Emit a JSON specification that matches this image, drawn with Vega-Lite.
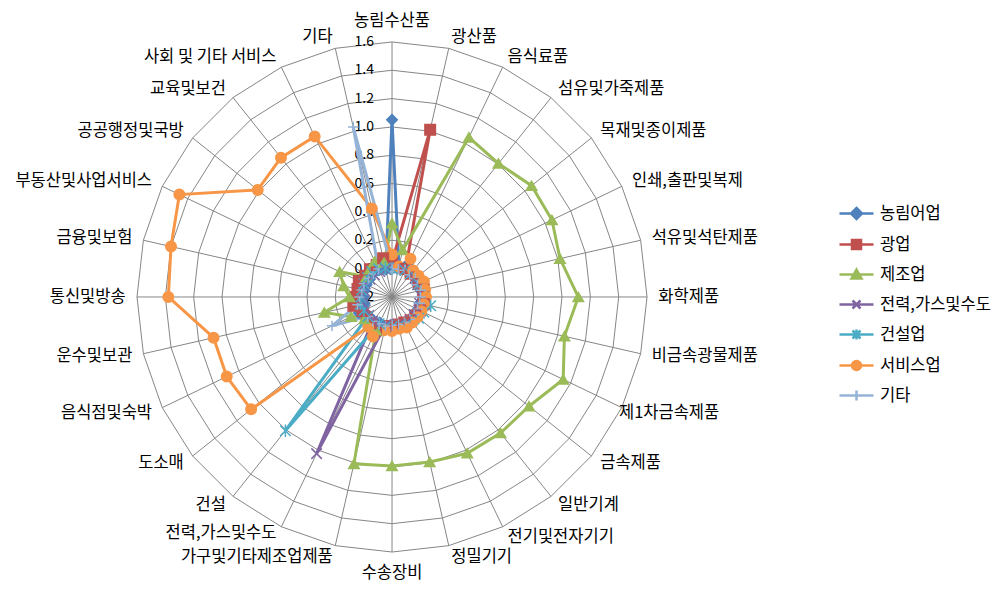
{
  "$schema": "https://vega.github.io/schema/vega-lite/v6.json",
  "width": 994,
  "height": 589,
  "padding": 0,
  "autosize": {"type": "none"},
  "background": "white",
  "config": {"view": {"stroke": null}, "font": "Noto Sans CJK KR"},
  "datasets": {
    "cats": [
      {"i": 0, "cat": "농림수산품", "농림어업": 1.05, "광업": 0.05, "제조업": 0.32, "전력,가스및수도": 0.0, "건설업": 0.0, "서비스업": 0.1, "기타": 0.0},
      {"i": 1, "cat": "광산품", "농림어업": 0.02, "광업": 1.01, "제조업": 0.14, "전력,가스및수도": 0.01, "건설업": 0.01, "서비스업": 0.02, "기타": 0.0},
      {"i": 2, "cat": "음식료품", "농림어업": 0.06, "광업": 0.02, "제조업": 1.05, "전력,가스및수도": 0.01, "건설업": 0.01, "서비스업": 0.1, "기타": 0.01},
      {"i": 3, "cat": "섬유및가죽제품", "농림어업": 0.02, "광업": 0.01, "제조업": 1.005, "전력,가스및수도": 0.01, "건설업": 0.01, "서비스업": 0.04, "기타": 0.0},
      {"i": 4, "cat": "목재및종이제품", "농림어업": 0.03, "광업": 0.02, "제조업": 1.06, "전력,가스및수도": 0.01, "건설업": 0.02, "서비스업": 0.04, "기타": 0.01},
      {"i": 5, "cat": "인쇄,출판및복제", "농림어업": 0.0, "광업": 0.01, "제조업": 1.053, "전력,가스및수도": 0.0, "건설업": 0.01, "서비스업": 0.05, "기타": 0.0},
      {"i": 6, "cat": "석유및석탄제품", "농림어업": 0.01, "광업": 0.03, "제조업": 1.016, "전력,가스및수도": 0.02, "건설업": 0.02, "서비스업": 0.04, "기타": 0.01},
      {"i": 7, "cat": "화학제품", "농림어업": 0.02, "광업": 0.02, "제조업": 1.115, "전력,가스및수도": 0.01, "건설업": 0.03, "서비스업": 0.04, "기타": 0.0},
      {"i": 8, "cat": "비금속광물제품", "농림어업": 0.0, "광업": 0.03, "제조업": 1.048, "전력,가스및수도": 0.0, "건설업": 0.08, "서비스업": 0.03, "기타": 0.0},
      {"i": 9, "cat": "제1차금속제품", "농림어업": 0.0, "광업": 0.02, "제조업": 1.141, "전력,가스및수도": 0.01, "건설업": 0.05, "서비스업": 0.03, "기타": 0.0},
      {"i": 10, "cat": "금속제품", "농림어업": 0.0, "광업": 0.01, "제조업": 1.037, "전력,가스및수도": 0.0, "건설업": 0.04, "서비스업": 0.03, "기타": 0.0},
      {"i": 11, "cat": "일반기계", "농림어업": 0.01, "광업": 0.01, "제조업": 1.028, "전력,가스및수도": 0.01, "건설업": 0.02, "서비스업": 0.03, "기타": 0.0},
      {"i": 12, "cat": "전기및전자기기", "농림어업": 0.0, "광업": 0.0, "제조업": 1.024, "전력,가스및수도": 0.01, "건설업": 0.02, "서비스업": 0.04, "기타": 0.0},
      {"i": 13, "cat": "정밀기기", "농림어업": 0.0, "광업": 0.0, "제조업": 0.995, "전력,가스및수도": 0.0, "건설업": 0.01, "서비스업": 0.03, "기타": 0.0},
      {"i": 14, "cat": "수송장비", "농림어업": 0.0, "광업": 0.01, "제조업": 0.993, "전력,가스및수도": 0.01, "건설업": 0.01, "서비스업": 0.04, "기타": 0.0},
      {"i": 15, "cat": "가구및기타제조업제품", "농림어업": 0.01, "광업": 0.01, "제조업": 1.008, "전력,가스및수도": 0.0, "건설업": 0.02, "서비스업": 0.04, "기타": 0.01},
      {"i": 16, "cat": "전력,가스및수도", "농림어업": 0.0, "광업": 0.06, "제조업": 0.06, "전력,가스및수도": 1.027, "건설업": 0.01, "서비스업": 0.11, "기타": 0.01},
      {"i": 17, "cat": "건설", "농림어업": 0.01, "광업": 0.04, "제조업": 0.06, "전력,가스및수도": 0.02, "건설업": 1.007, "서비스업": 0.068, "기타": 0.02},
      {"i": 18, "cat": "도소매", "농림어업": 0.01, "광업": 0.03, "제조업": 0.05, "전력,가스및수도": 0.01, "건설업": 0.02, "서비스업": 1.072, "기타": 0.02},
      {"i": 19, "cat": "음식점및숙박", "농림어업": 0.06, "광업": 0.03, "제조업": 0.12, "전력,가스및수도": 0.01, "건설업": 0.02, "서비스업": 1.095, "기타": 0.27},
      {"i": 20, "cat": "운수및보관", "농림어업": 0.0, "광업": 0.08, "제조업": 0.29, "전력,가스및수도": 0.01, "건설업": 0.03, "서비스업": 1.092, "기타": 0.05},
      {"i": 21, "cat": "통신및방송", "농림어업": 0.0, "광업": 0.06, "제조업": 0.1, "전력,가스및수도": 0.01, "건설업": 0.02, "서비스업": 1.379, "기타": 0.03},
      {"i": 22, "cat": "금융및보험", "농림어업": 0.0, "광업": 0.05, "제조업": 0.15, "전력,가스및수도": 0.0, "건설업": 0.02, "서비스업": 1.4, "기타": 0.02},
      {"i": 23, "cat": "부동산및사업서비스", "농림어업": 0.0, "광업": 0.06, "제조업": 0.21, "전력,가스및수도": 0.01, "건설업": 0.02, "서비스업": 1.466, "기타": 0.02},
      {"i": 24, "cat": "공공행정및국방", "농림어업": 0.0, "광업": 0.04, "제조업": 0.03, "전력,가스및수도": 0.0, "건설업": 0.02, "서비스업": 1.012, "기타": 0.01},
      {"i": 25, "cat": "교육및보건", "농림어업": 0.01, "광업": 0.05, "제조업": 0.05, "전력,가스및수도": 0.0, "건설업": 0.03, "서비스업": 1.057, "기타": 0.01},
      {"i": 26, "cat": "사회 및 기타 서비스", "농림어업": 0.01, "광업": 0.05, "제조업": 0.08, "전력,가스및수도": 0.0, "건설업": 0.02, "서비스업": 1.058, "기타": 0.02},
      {"i": 27, "cat": "기타", "농림어업": 0.0, "광업": 0.08, "제조업": 0.05, "전력,가스및수도": 0.0, "건설업": 0.01, "서비스업": 0.44, "기타": 1.03}
    ],
    "levels": [
      {"lab": "-0.2", "v": -0.2},
      {"lab": "0.0", "v": 0.0},
      {"lab": "0.2", "v": 0.2},
      {"lab": "0.4", "v": 0.4},
      {"lab": "0.6", "v": 0.6},
      {"lab": "0.8", "v": 0.8},
      {"lab": "1.0", "v": 1.0},
      {"lab": "1.2", "v": 1.2},
      {"lab": "1.4", "v": 1.4},
      {"lab": "1.6", "v": 1.6}
    ]
  },
  "data": {"name": "cats"},
  "layer": [
    {
      "transform": [
        {"fold": ["L0", "L2", "L4", "L6", "L8", "L10", "L12", "L14", "L16"], "as": ["lv", "dummy"]},
        {"calculate": "datum.i*2*PI/28", "as": "ang"},
        {"calculate": "toNumber(slice(datum.lv,1))/10+0.2", "as": "rr"},
        {"calculate": "datum.rr*sin(datum.ang)", "as": "px"},
        {"calculate": "datum.rr*cos(datum.ang)", "as": "py"}
      ],
      "mark": {"type": "line", "interpolate": "linear-closed", "color": "#868686", "strokeWidth": 1},
      "encoding": {
        "x": {"field": "px", "type": "quantitative", "scale": {"domain": [-2.767, 4.249], "nice": false, "zero": false}, "axis": null},
        "y": {"field": "py", "type": "quantitative", "scale": {"domain": [-2.061, 2.096], "nice": false, "zero": false}, "axis": null},
        "detail": {"field": "lv", "type": "nominal"},
        "order": {"field": "i", "type": "quantitative"}
      }
    },
    {
      "transform": [
        {"calculate": "datum.i*2*PI/28", "as": "ang"},
        {"calculate": "1.8*sin(datum.ang)", "as": "px"},
        {"calculate": "1.8*cos(datum.ang)", "as": "py"}
      ],
      "mark": {"type": "rule", "color": "#868686", "strokeWidth": 1},
      "encoding": {
        "x": {"field": "px", "type": "quantitative"},
        "y": {"field": "py", "type": "quantitative"},
        "x2": {"datum": 0},
        "y2": {"datum": 0}
      }
    },
    {
      "data": {"name": "levels"},
      "transform": [{"calculate": "datum.v+0.2", "as": "py"}],
      "mark": {"type": "text", "align": "right", "baseline": "middle", "dx": -18, "fontSize": 14, "color": "#000000", "font": "Noto Sans CJK KR"},
      "encoding": {
        "x": {"datum": 0, "type": "quantitative"},
        "y": {"field": "py", "type": "quantitative"},
        "text": {"field": "lab", "type": "nominal"}
      }
    },
    {
      "transform": [
        {"fold": ["농림어업", "광업", "제조업", "전력,가스및수도", "건설업", "서비스업", "기타"], "as": ["series", "v"]},
        {"calculate": "datum.i*2*PI/28", "as": "ang"},
        {"calculate": "(datum.v+0.2)*sin(datum.ang)", "as": "px"},
        {"calculate": "(datum.v+0.2)*cos(datum.ang)", "as": "py"}
      ],
      "mark": {"type": "line", "interpolate": "linear-closed", "strokeWidth": 3},
      "encoding": {
        "x": {"field": "px", "type": "quantitative"},
        "y": {"field": "py", "type": "quantitative"},
        "stroke": {"field": "series", "type": "nominal", "legend": null,
          "scale": {"domain": ["농림어업", "광업", "제조업", "전력,가스및수도", "건설업", "서비스업", "기타"], "range": ["#4F81BD", "#C0504D", "#9BBB59", "#8064A2", "#4BACC6", "#F79646", "#95B3D7"]}},
        "order": {"field": "i", "type": "quantitative"}
      }
    },
    {
      "transform": [
        {"fold": ["농림어업", "광업", "제조업", "전력,가스및수도", "건설업", "서비스업", "기타"], "as": ["series", "v"]},
        {"calculate": "datum.i*2*PI/28", "as": "ang"},
        {"calculate": "(datum.v+0.2)*sin(datum.ang)", "as": "px"},
        {"calculate": "(datum.v+0.2)*cos(datum.ang)", "as": "py"}
      ],
      "mark": {"type": "point", "filled": true, "opacity": 1, "strokeWidth": 1.5},
      "encoding": {
        "x": {"field": "px", "type": "quantitative"},
        "y": {"field": "py", "type": "quantitative"},
        "fill": {"field": "series", "type": "nominal", "legend": null,
          "scale": {"domain": ["농림어업", "광업", "제조업", "전력,가스및수도", "건설업", "서비스업", "기타"], "range": ["#4F81BD", "#C0504D", "#9BBB59", "#8064A2", "#4BACC6", "#F79646", "#95B3D7"]}},
        "stroke": {"field": "series", "type": "nominal", "legend": null,
          "scale": {"domain": ["농림어업", "광업", "제조업", "전력,가스및수도", "건설업", "서비스업", "기타"], "range": ["#4F81BD", "#C0504D", "#9BBB59", "#8064A2", "#4BACC6", "#F79646", "#95B3D7"]}},
        "shape": {"field": "series", "type": "nominal", "legend": null,
          "scale": {"domain": ["농림어업", "광업", "제조업", "전력,가스및수도", "건설업", "서비스업", "기타"], "range": ["diamond", "square", "triangle-up", "M-1,-1L1,1M-1,1L1,-1", "M-1,-1L1,1M-1,1L1,-1M0,-1.2V1.2", "circle", "M0,-1V1M-1,0H1"]}},
        "size": {"field": "series", "type": "nominal", "legend": null,
          "scale": {"domain": ["농림어업", "광업", "제조업", "전력,가스및수도", "건설업", "서비스업", "기타"], "range": [110, 110, 100, 80, 80, 100, 90]}}
      }
    },
    {
      "transform": [{"filter": "false"}],
      "mark": {"type": "point", "filled": true, "opacity": 1},
      "encoding": {
        "fill": {"field": "series", "type": "nominal",
          "scale": {"domain": ["농림어업", "광업", "제조업", "전력,가스및수도", "건설업", "서비스업", "기타"], "range": ["#4F81BD", "#C0504D", "#9BBB59", "#8064A2", "#4BACC6", "#F79646", "#95B3D7"]},
          "legend": {"title": null, "orient": "none", "legendX": 845, "legendY": 202, "padding": 0, "symbolSize": 400, "symbolStrokeWidth": 2.5, "labelFontSize": 16.5, "labelFont": "Noto Sans CJK KR", "labelColor": "#000000", "labelOffset": 12, "rowPadding": 9, "labelLimit": 300}},
        "stroke": {"field": "series", "type": "nominal",
          "scale": {"domain": ["농림어업", "광업", "제조업", "전력,가스및수도", "건설업", "서비스업", "기타"], "range": ["#4F81BD", "#C0504D", "#9BBB59", "#8064A2", "#4BACC6", "#F79646", "#95B3D7"]},
          "legend": {"title": null, "orient": "none", "legendX": 845, "legendY": 202, "padding": 0, "symbolSize": 400, "symbolStrokeWidth": 2.5, "labelFontSize": 16.5, "labelFont": "Noto Sans CJK KR", "labelColor": "#000000", "labelOffset": 12, "rowPadding": 9, "labelLimit": 300}},
        "shape": {"field": "series", "type": "nominal",
          "scale": {"domain": ["농림어업", "광업", "제조업", "전력,가스및수도", "건설업", "서비스업", "기타"], "range": [
            "M-1.7,0H1.7M0,-0.55L0.55,0L0,0.55L-0.55,0Z",
            "M-1.7,0H1.7M-0.45,-0.45H0.45V0.45H-0.45Z",
            "M-1.7,0H1.7M0,-0.5L0.5,0.4H-0.5Z",
            "M-1.7,0H1.7M-0.4,-0.4L0.4,0.4M-0.4,0.4L0.4,-0.4",
            "M-1.7,0H1.7M-0.4,-0.4L0.4,0.4M-0.4,0.4L0.4,-0.4M0,-0.5V0.5",
            "M-1.7,0H1.7M0.45,0A0.45,0.45,0,1,1,-0.45,0A0.45,0.45,0,1,1,0.45,0",
            "M-1.7,0H1.7M0,-0.5V0.5"]},
          "legend": {"title": null, "orient": "none", "legendX": 845, "legendY": 202, "padding": 0, "symbolSize": 400, "symbolStrokeWidth": 2.5, "labelFontSize": 16.5, "labelFont": "Noto Sans CJK KR", "labelColor": "#000000", "labelOffset": 12, "rowPadding": 9, "labelLimit": 300}}
      }
    },
    {
      "transform": [
        {"filter": "datum.i>=1 && datum.i<=13 && datum.i!=9"},
        {"calculate": "datum.i*2*PI/28", "as": "ang"},
        {"calculate": "1.88*sin(datum.ang)", "as": "px"},
        {"calculate": "1.88*cos(datum.ang)", "as": "py"}
      ],
      "mark": {"type": "text", "align": "left", "baseline": "middle", "fontSize": 16.5, "font": "Noto Sans CJK KR", "color": "#000000"},
      "encoding": {
        "x": {"field": "px", "type": "quantitative"},
        "y": {"field": "py", "type": "quantitative"},
        "text": {"field": "cat", "type": "nominal"}
      }
    },
    {
      "transform": [
        {"filter": "datum.i==9"},
        {"calculate": "datum.i*2*PI/28", "as": "ang"},
        {"calculate": "1.88*sin(datum.ang)", "as": "px"},
        {"calculate": "1.88*cos(datum.ang)", "as": "py"}
      ],
      "mark": {"type": "text", "align": "left", "baseline": "middle", "dx": -13, "fontSize": 16.5, "font": "Noto Sans CJK KR", "color": "#000000"},
      "encoding": {
        "x": {"field": "px", "type": "quantitative"},
        "y": {"field": "py", "type": "quantitative"},
        "text": {"field": "cat", "type": "nominal"}
      }
    },
    {
      "transform": [
        {"filter": "datum.i>=15 && datum.i!=16"},
        {"calculate": "datum.i*2*PI/28", "as": "ang"},
        {"calculate": "1.88*sin(datum.ang)", "as": "px"},
        {"calculate": "1.88*cos(datum.ang)", "as": "py"}
      ],
      "mark": {"type": "text", "align": "right", "baseline": "middle", "fontSize": 16.5, "font": "Noto Sans CJK KR", "color": "#000000"},
      "encoding": {
        "x": {"field": "px", "type": "quantitative"},
        "y": {"field": "py", "type": "quantitative"},
        "text": {"field": "cat", "type": "nominal"}
      }
    },
    {
      "transform": [
        {"filter": "datum.i==16"},
        {"calculate": "datum.i*2*PI/28", "as": "ang"},
        {"calculate": "1.88*sin(datum.ang)", "as": "px"},
        {"calculate": "1.88*cos(datum.ang)", "as": "py"}
      ],
      "mark": {"type": "text", "align": "right", "baseline": "middle", "dy": -4, "fontSize": 16.5, "font": "Noto Sans CJK KR", "color": "#000000"},
      "encoding": {
        "x": {"field": "px", "type": "quantitative"},
        "y": {"field": "py", "type": "quantitative"},
        "text": {"field": "cat", "type": "nominal"}
      }
    },
    {
      "transform": [
        {"filter": "datum.i==0"},
        {"calculate": "1.88", "as": "py"}
      ],
      "mark": {"type": "text", "align": "center", "baseline": "bottom", "dy": -2, "fontSize": 16.5, "font": "Noto Sans CJK KR", "color": "#000000"},
      "encoding": {
        "x": {"datum": 0, "type": "quantitative"},
        "y": {"field": "py", "type": "quantitative"},
        "text": {"field": "cat", "type": "nominal"}
      }
    },
    {
      "transform": [
        {"filter": "datum.i==14"},
        {"calculate": "-1.88", "as": "py"}
      ],
      "mark": {"type": "text", "align": "center", "baseline": "top", "dy": 2, "fontSize": 16.5, "font": "Noto Sans CJK KR", "color": "#000000"},
      "encoding": {
        "x": {"datum": 0, "type": "quantitative"},
        "y": {"field": "py", "type": "quantitative"},
        "text": {"field": "cat", "type": "nominal"}
      }
    }
  ],
  "resolve": {"scale": {"fill": "independent", "stroke": "independent", "shape": "independent", "size": "independent"}}
}
